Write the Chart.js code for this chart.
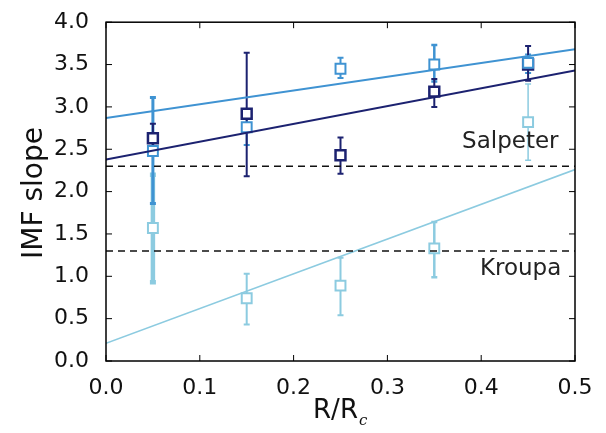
<!DOCTYPE html>
<html>
<head>
<meta charset="utf-8">
<script src="https://cdn.jsdelivr.net/npm/chart.js@4.4.1/dist/chart.umd.min.js"></script>
<style>
  html, body { margin: 0; padding: 0; background: #fff; }
</style>
</head>
<body>
<canvas id="imfChart" width="606" height="433"></canvas>
<script>
// Radial bins (R/Rc)
const radii = [0.05, 0.15, 0.25, 0.35, 0.45];

// Dark navy series with error bar ends
const navySlope = [2.63, 2.92, 2.43, 3.18, 3.50];
const navyHi = [2.80, 3.64, 2.64, 3.33, 3.72];
const navyLo = [2.45, 2.18, 2.21, 3.00, 3.31];

// Medium blue series
const midSlope = [2.48, 2.76, 3.45, 3.50, 3.52];
const midHi = [3.11, 2.97, 3.58, 3.73, 3.62];
const midLo = [1.86, 2.55, 3.34, 3.30, 3.40];

// Light blue series
const lightSlope = [1.57, 0.74, 0.89, 1.33, 2.82];
const lightHi = [2.20, 1.03, 1.22, 1.64, 3.27];
const lightLo = [0.93, 0.43, 0.54, 0.99, 2.37];

// Linear fits, evaluated at the ends of the axis
const fitX = [0, 0.5];
const navyFit = [2.38, 3.43];
const midFit = [2.87, 3.68];
const lightFit = [0.21, 2.26];

// Reference slopes
const salpeter = 2.3;
const kroupa = 1.3;

// Tick values
const xTicks = [0, 0.1, 0.2, 0.3, 0.4, 0.5];
const yTicks = [0, 0.5, 1, 1.5, 2, 2.5, 3, 3.5, 4];

const NAVY = '#1c2270';
const MID = '#3f93d2';
const LIGHT = '#8ccbe0';

const pts = (xs, ys) => xs.map((x, i) => ({ x: x, y: ys[i] }));

// error bar groups for the plugin
const errGroups = [
    { lo: lightLo, hi: lightHi, color: LIGHT, width: [4.5, 2, 2, 2.5, 1.5] },
    { lo: midLo, hi: midHi, color: MID, width: [3, 2, 2, 2.5, 2] },
    { lo: navyLo, hi: navyHi, color: NAVY, width: [2, 2, 2, 2, 2] }
];

const errorBars = {
    id: 'errorBars',
    beforeDatasetsDraw(chart) {
        const c = chart.ctx, xs = chart.scales.x, ys = chart.scales.y;
        c.save();
        errGroups.forEach(g => {
            c.strokeStyle = g.color;
            radii.forEach((r, i) => {
                const px = xs.getPixelForValue(r);
                const y1 = ys.getPixelForValue(g.lo[i]);
                const y2 = ys.getPixelForValue(g.hi[i]);
                c.lineWidth = g.width[i];
                c.beginPath();
                c.moveTo(px, y1); c.lineTo(px, y2);
                // caps
                c.moveTo(px - 3, y1); c.lineTo(px + 3, y1);
                c.moveTo(px - 3, y2); c.lineTo(px + 3, y2);
                c.stroke();
            });
        });
        c.restore();
    },
    afterDraw(chart) {
        const c = chart.ctx, a = chart.chartArea;
        const xs = chart.scales.x, ys = chart.scales.y;
        c.save();
        // frame
        c.strokeStyle = '#000';
        c.lineWidth = 1.5;
        c.strokeRect(a.left, a.top, a.right - a.left, a.bottom - a.top);
        // inward ticks on all four sides
        c.lineWidth = 1;
        c.beginPath();
        xTicks.forEach(v => {
            const px = xs.getPixelForValue(v);
            c.moveTo(px, a.bottom); c.lineTo(px, a.bottom - 6);
            c.moveTo(px, a.top); c.lineTo(px, a.top + 6);
        });
        yTicks.forEach(v => {
            const py = ys.getPixelForValue(v);
            c.moveTo(a.left, py); c.lineTo(a.left + 6, py);
            c.moveTo(a.right, py); c.lineTo(a.right - 6, py);
        });
        c.stroke();
        // reference line labels
        c.fillStyle = '#222';
        c.font = '23px "DejaVu Sans"';
        c.textAlign = 'center';
        c.textBaseline = 'middle';
        c.fillText('Salpeter', xs.getPixelForValue(0.431), ys.getPixelForValue(2.59));
        c.fillText('Kroupa', xs.getPixelForValue(0.442), ys.getPixelForValue(1.08));
        // y axis title
        c.fillStyle = '#111';
        c.font = '28px "DejaVu Sans"';
        c.save();
        c.translate(35, 193);
        c.rotate(-Math.PI / 2);
        c.fillText('IMF slope', 0, 0);
        c.restore();
        // x axis title with subscript
        c.textAlign = 'left';
        c.textBaseline = 'alphabetic';
        c.font = '26px "DejaVu Sans"';
        const w = c.measureText('R/R').width;
        const x0 = 340 - (w + 9) / 2;
        c.fillText('R/R', x0, 418);
        c.font = 'italic 15px "DejaVu Serif"';
        c.fillText('c', x0 + w + 1, 425);
        c.restore();
    }
};

const ctx = document.
    getElementById('imfChart').
    getContext('2d');

const tickFont = { family: 'DejaVu Sans', size: 22 };

const imfChart = new Chart(ctx, {
    type: 'scatter',
    data: {
        datasets: [
            // dashed reference lines
            {
                type: 'line', data: pts(fitX, [salpeter, salpeter]),
                borderColor: '#111', borderWidth: 1.5, borderDash: [7, 5],
                pointRadius: 0
            },
            {
                type: 'line', data: pts(fitX, [kroupa, kroupa]),
                borderColor: '#111', borderWidth: 1.5, borderDash: [7, 5],
                pointRadius: 0
            },
            // fits
            {
                type: 'line', data: pts(fitX, lightFit),
                borderColor: LIGHT, borderWidth: 1.5, pointRadius: 0
            },
            {
                type: 'line', data: pts(fitX, midFit),
                borderColor: MID, borderWidth: 2, pointRadius: 0
            },
            {
                type: 'line', data: pts(fitX, navyFit),
                borderColor: NAVY, borderWidth: 2, pointRadius: 0
            },
            // measurements
            {
                data: pts(radii, lightSlope), pointStyle: 'rect',
                pointRadius: 7, borderWidth: 2,
                borderColor: LIGHT, backgroundColor: '#fff'
            },
            {
                data: pts(radii, midSlope), pointStyle: 'rect',
                pointRadius: 7, borderWidth: 2,
                borderColor: MID, backgroundColor: '#fff'
            },
            {
                data: pts(radii, navySlope), pointStyle: 'rect',
                pointRadius: 7, borderWidth: 2.5,
                borderColor: NAVY, backgroundColor: '#fff'
            }
        ]
    },
    options: {
        responsive: false,
        animation: false,
        layout: { padding: { top: 20, right: 31, left: 0, bottom: 0 } },
        plugins: {
            legend: { display: false },
            tooltip: { enabled: false }
        },
        scales: {
            x: {
                type: 'linear', min: 0, max: 0.5,
                afterBuildTicks: s => { s.ticks = xTicks.map(v => ({ value: v })); },
                afterFit: s => { s.height = 72; },
                ticks: {
                    font: tickFont, color: '#111', padding: 6,
                    maxRotation: 0,
                    callback: v => v.toFixed(1)
                },
                grid: { display: false },
                border: { display: false }
            },
            y: {
                min: 0, max: 4,
                afterBuildTicks: s => { s.ticks = yTicks.map(v => ({ value: v })); },
                afterFit: s => { s.width = 106; },
                ticks: {
                    font: tickFont, color: '#111', padding: 9,
                    callback: v => v.toFixed(1)
                },
                grid: { display: false },
                border: { display: false }
            }
        }
    },
    plugins: [errorBars]
});
</script>
</body>
</html>
